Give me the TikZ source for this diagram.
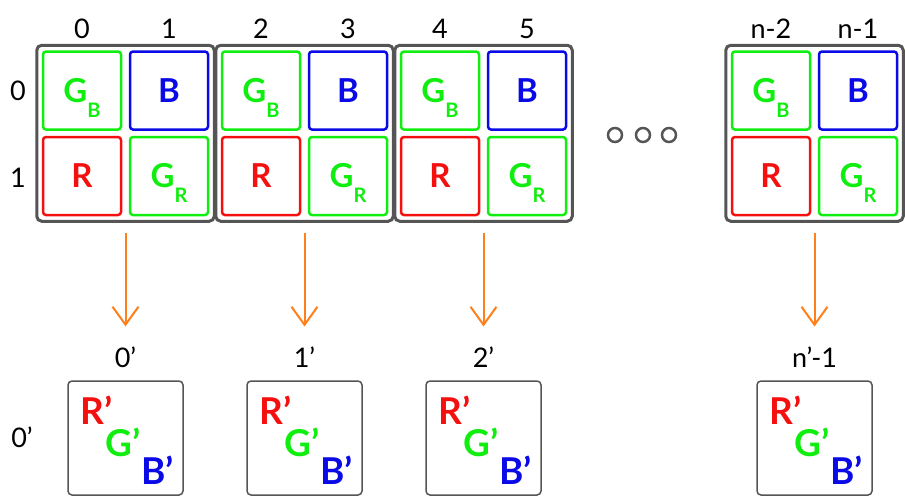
\documentclass[tikz,border=0pt]{standalone}
\usepackage{fontspec}
\setmainfont{Lato}
\usepackage{tikz}
\usetikzlibrary{positioning,arrows.meta,fit}
\definecolor{pixred}{HTML}{F51010}
\definecolor{pixgreen}{HTML}{10EE10}
\definecolor{pixblue}{HTML}{0A0AE6}
\definecolor{frame}{HTML}{555555}
\definecolor{flowc}{HTML}{FF7F1A}
\newcommand{\lblfont}{\fontsize{27}{29}\selectfont}
\newcommand{\cellfont}{\fontsize{33}{35}\selectfont\bfseries}
\newcommand{\subfont}{\fontsize{20}{22}\selectfont\bfseries}
\newcommand{\outfont}{\fontsize{37}{39}\selectfont\bfseries}
\newcommand{\chsub}[1]{\raisebox{-15pt}[0pt][0pt]{\subfont #1}}

\begin{document}
\begin{tikzpicture}[x=1pt,y=-1pt,
  cell/.style={draw,line width=2.5pt,rounded corners=3pt,minimum size=78pt,inner sep=0pt,font=\cellfont},
  grp/.style={draw=frame,line width=3pt,rounded corners=5pt,inner sep=5pt},
  outbox/.style={draw=frame,line width=1.5pt,rounded corners=4pt,minimum width=115pt,minimum height=114pt,inner sep=0pt},
  lbl/.style={font=\lblfont,inner sep=0pt},
  chan/.style={font=\outfont,inner sep=0pt},
  flow/.style={draw=flowc,line width=2pt,-{Straight Barb[length=18pt,width=26pt]},shorten <=10pt,shorten >=20pt}]
  \useasboundingbox (0,0) rectangle (905,496);
  %% row labels
  \node[lbl] (row0) at (18,91) {0};
  \node[lbl] (row1) at (18,178) {1};
  \node[lbl] (rowout) at (22,437) {0’};
  %% bayer groups, arrows and output pixels
  \foreach \g/\x/\ca/\cb/\oc in {1/82/0/1/0’, 2/261/2/3/1’, 3/440/4/5/2’, 4/771/n-2/n-1/n’-1}{
    \node[cell,draw=pixgreen,text=pixgreen] (gb\g) at (\x,90.5) {G\chsub{B}};
    \node[cell,draw=pixblue,text=pixblue] (b\g) at (\x+87,90.5) {B};
    \node[cell,draw=pixred,text=pixred] (r\g) at (\x,176) {R};
    \node[cell,draw=pixgreen,text=pixgreen] (gr\g) at (\x+87,176) {G\chsub{R}};
    \node[grp,fit=(gb\g)(gr\g)] (grp\g) {};
    \node[lbl] (ca\g) at (\x,29) {\ca};
    \node[lbl] (cb\g) at (\x+87,29) {\cb};
    \node[lbl] (oc\g) at (\x+43.5,357) {\oc};
    \node[outbox] (px\g) at (\x+43.5,438) {};
    \node[chan,text=pixred] (rp\g) at ([shift={(-29,-28)}]px\g.center) {R’};
    \node[chan,text=pixgreen] (gp\g) at ([shift={(-2,4)}]px\g.center) {G’};
    \node[chan,text=pixblue] (bp\g) at ([shift={(32,32)}]px\g.center) {B’};
    \draw[flow] (grp\g.south) -- (oc\g.north);
  }
  %% ellipsis
  \foreach \d in {615,643,669}
    \draw[draw=frame,line width=2.5pt] (\d,135) circle (7pt);
\end{tikzpicture}
\end{document}
